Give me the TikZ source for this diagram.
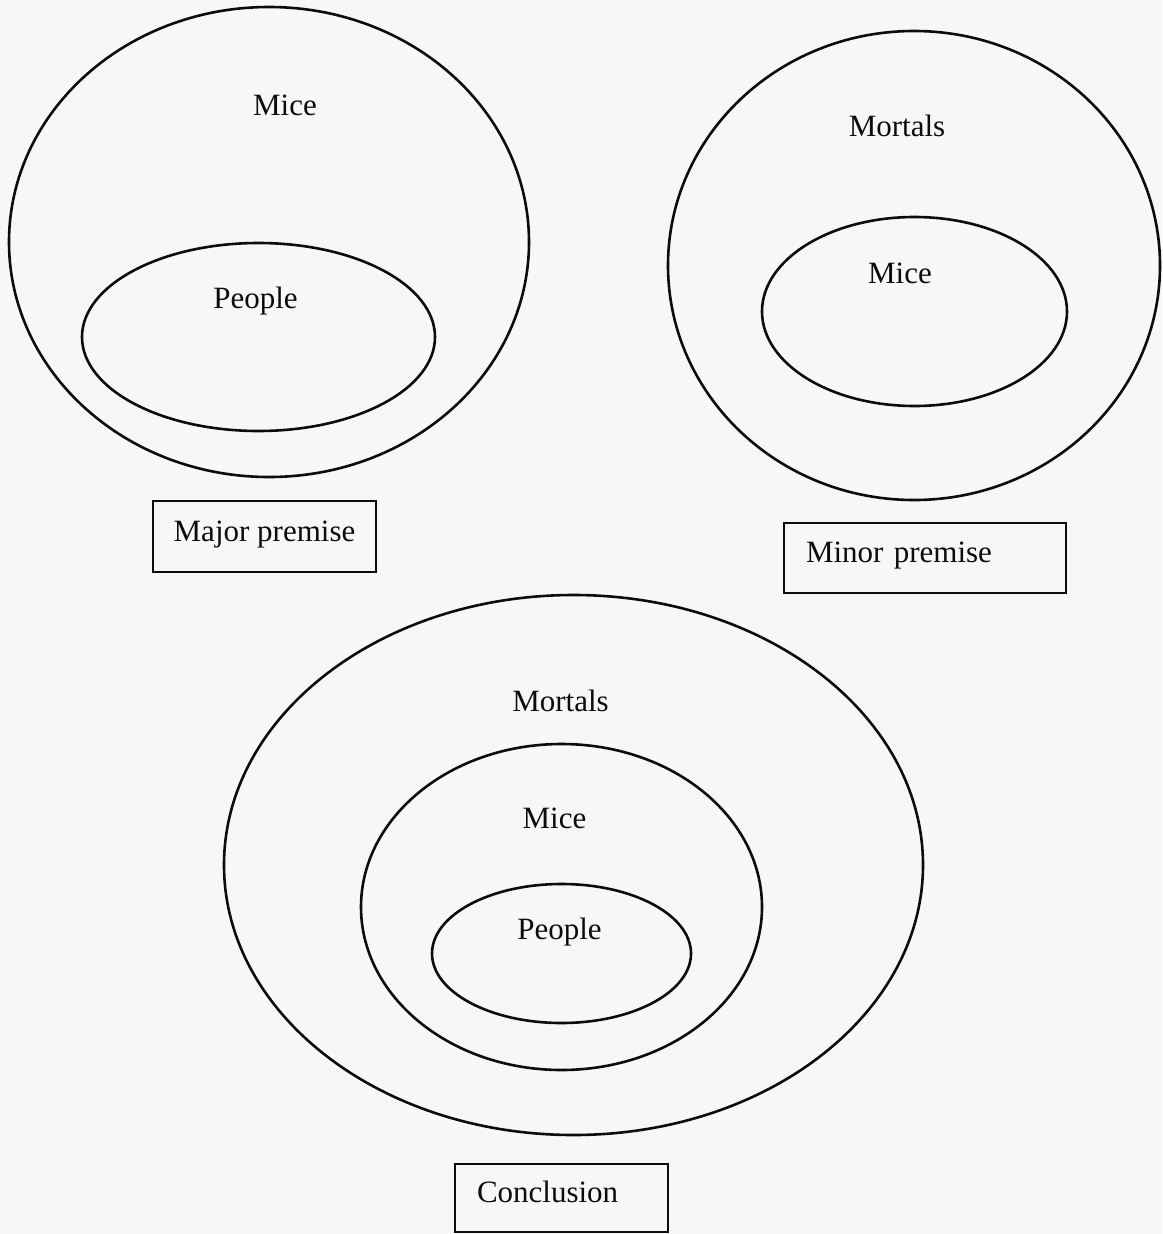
\documentclass[tikz,border=0pt]{standalone}
\usepackage{fontspec}
\setmainfont{Liberation Serif}
\usetikzlibrary{shapes.geometric}
\definecolor{paper}{RGB}{246,248,248}
\definecolor{ink}{RGB}{12,12,12}
\begin{document}
\begin{tikzpicture}[x=1pt,y=-1pt,
  ring/.style={draw=ink, line width=2.6pt, ellipse, inner sep=0pt, outer sep=0pt},
  lbl/.style={font=\fontsize{31}{36}\selectfont, text=ink, inner sep=0pt, anchor=base},
  capbox/.style={draw=ink, line width=2.6pt, font=\fontsize{31}{36}\selectfont, text=ink,
    inner ysep=0pt, text height=16pt, text depth=7pt}]
\fill[paper] (0,0) rectangle (1162,1234);
\useasboundingbox (0,0) rectangle (1162,1234);

% Major premise
\node[ring, minimum width=520pt, minimum height=470pt] (majOuter) at (269,242) {};
\node[ring, minimum width=353pt, minimum height=188pt] (majInner) at (258.5,337) {};
\node[lbl] (majMice) at (285,115) {Mice};
\node[lbl] (majPeople) at (255.5,308) {People};
\node[capbox, minimum width=223pt, minimum height=71pt] (majBox) at (264.5,536.5) {Major premise};

% Minor premise
\node[ring, minimum width=492pt, minimum height=469pt] (minOuter) at (914,265.5) {};
\node[ring, minimum width=305pt, minimum height=189pt] (minInner) at (914.5,311.5) {};
\node[lbl] (minMortals) at (897,136) {Mortals};
\node[lbl] (minMice) at (900,283) {Mice};
\node[capbox, text width=238pt, inner xsep=22pt, align=left, minimum height=70pt] (minBox) at (925,558) {Minor premise};

% Conclusion
\node[ring, minimum width=699pt, minimum height=540pt] (conOuter) at (573.5,865) {};
\node[ring, minimum width=401pt, minimum height=326pt] (conMiddle) at (561.5,907) {};
\node[ring, minimum width=259pt, minimum height=139pt] (conInner) at (561.5,953.5) {};
\node[lbl] (conMortals) at (560.5,711) {Mortals};
\node[lbl] (conMice) at (554.5,828) {Mice};
\node[lbl] (conPeople) at (559.5,939.5) {People};
\node[capbox, text width=169pt, inner xsep=22pt, align=left, minimum height=68pt] (conBox) at (561.5,1198) {Conclusion};
\end{tikzpicture}
\end{document}
